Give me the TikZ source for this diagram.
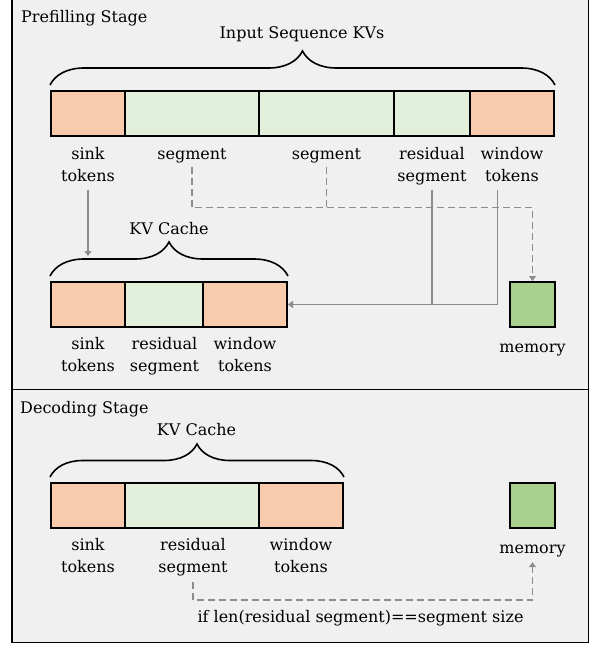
\documentclass[tikz,border=0pt]{standalone}
\usepackage{fontspec}
\setmainfont{DejaVu Serif}
\usetikzlibrary{arrows.meta,decorations.pathreplacing,calc}
\definecolor{bgc}{HTML}{F0F0F0}
\definecolor{orng}{HTML}{F8CBAD}
\definecolor{lgrn}{HTML}{E2EFDA}
\definecolor{mgrn}{HTML}{A9D18E}
\definecolor{conc}{HTML}{8C8C8C}
\begin{document}
\begin{tikzpicture}[x=1pt,y=-1pt,
  every node/.style={font=\fontsize{16}{22}\selectfont, inner sep=0pt},
  cell/.style={draw=black, line width=2pt, minimum height=45pt, inner sep=0pt},
  lbl/.style={align=center},
  conn/.style={draw=conc, line width=1.8pt},
  dconn/.style={conn, dash pattern=on 7pt off 4pt},
  tip/.style={-{Triangle[width=7pt,length=5pt]}},
  brc/.style={draw=black, line width=1.6pt, decorate, decoration={brace, amplitude=#1}}
]
\useasboundingbox (0,0) rectangle (591,646);
\fill[white] (0,0) rectangle (591,646);
\draw[line width=1.6pt, fill=bgc] (12,-4) rectangle (588.5,642.5);
\draw[line width=1.6pt] (12,389.5) -- (588.5,389.5);

% ---------- Prefilling stage ----------
\node[anchor=base west] (pst) at (21,22.7) {Prefilling Stage};
\node[anchor=base] (isk) at (302,38.3) {Input Sequence KVs};

\node[cell,fill=orng,minimum width=74pt]  (s1) at (88,113.5) {};
\node[cell,fill=lgrn,minimum width=134pt] (g1) at (192,113.5) {};
\node[cell,fill=lgrn,minimum width=135pt] (g2) at (326.5,113.5) {};
\node[cell,fill=lgrn,minimum width=76pt]  (r1) at (432,113.5) {};
\node[cell,fill=orng,minimum width=84pt]  (w1) at (512,113.5) {};
\draw[brc=34pt] (s1.north west) ++(0,-5) -- ($(w1.north east)+(0,-5)$);

\node[lbl] (ls1) at (88,165.6) {\strut sink\\\strut tokens};
\node[lbl] (lg1) at (192,154.6) {\strut segment};
\node[lbl] (lg2) at (326.5,154.6) {\strut segment};
\node[lbl] (lr1) at (432,165.6) {\strut residual\\\strut segment};
\node[lbl] (lw1) at (512,165.6) {\strut window\\\strut tokens};

\node[anchor=base] (kvc1) at (169,234.3) {KV Cache};
\node[cell,fill=orng,minimum width=74pt] (s2) at (88,304.5) {};
\node[cell,fill=lgrn,minimum width=78pt] (r2) at (164,304.5) {};
\node[cell,fill=orng,minimum width=84pt] (w2) at (245,304.5) {};
\draw[brc=34pt] (s2.north west) ++(0,-5) -- ($(w2.north east)+(0,-5)$);
\node[cell,fill=mgrn,minimum width=45pt] (m1) at (532.5,304.5) {};

\node[lbl] (ls2) at (88,355.6) {\strut sink\\\strut tokens};
\node[lbl] (lr2) at (164.5,355.6) {\strut residual\\\strut segment};
\node[lbl] (lw2) at (245,355.6) {\strut window\\\strut tokens};
\node[lbl] (lm1) at (532.5,348.3) {\strut memory};

\coordinate (kvtop) at (88,256);
\coordinate (dj) at (532.5,207.5);
\coordinate (sj) at (497.5,304.5);

\draw[conn,tip] ($(ls1.south)+(0,2)$) -- (kvtop);
\draw[dconn,tip] ($(lg1.south)+(0,1)$) |- (dj) -- (m1.north);
\draw[dconn] ($(lg2.south)+(0,1)$) -- (lg2.south |- dj);
\draw[conn] ($(lr1.south)+(0,2)$) -- (lr1.south |- sj);
\draw[conn,tip] ($(lw1.south -| sj)+(0,2)$) -- (sj) -- (w2.east);

% ---------- Decoding stage ----------
\node[anchor=base west] (dst) at (20,413.3) {Decoding Stage};
\node[anchor=base] (kvc2) at (196.5,435) {KV Cache};
\node[cell,fill=orng,minimum width=74pt]  (s3) at (88,505.5) {};
\node[cell,fill=lgrn,minimum width=134pt] (r3) at (192,505.5) {};
\node[cell,fill=orng,minimum width=84pt]  (w3) at (301,505.5) {};
\draw[brc=33pt] (s3.north west) ++(0,-5) -- ($(w3.north east)+(0,-5)$);
\node[cell,fill=mgrn,minimum width=45pt] (m2) at (532.5,505.5) {};

\node[lbl] (ls3) at (88,557.3) {\strut sink\\\strut tokens};
\node[lbl] (lr3) at (193,557.3) {\strut residual\\\strut segment};
\node[lbl] (lw3) at (301,557.3) {\strut window\\\strut tokens};
\node[lbl] (lm2) at (532.5,549) {\strut memory};

\coordinate (dd) at (193,600);
\draw[dconn,tip] ($(lr3.south)+(0,2.4)$) -- (dd) -| ($(lm2.south)+(0,2)$);
\node[anchor=base] (cond) at (360.5,622.7) {if len(residual segment)==segment size};
\end{tikzpicture}
\end{document}
